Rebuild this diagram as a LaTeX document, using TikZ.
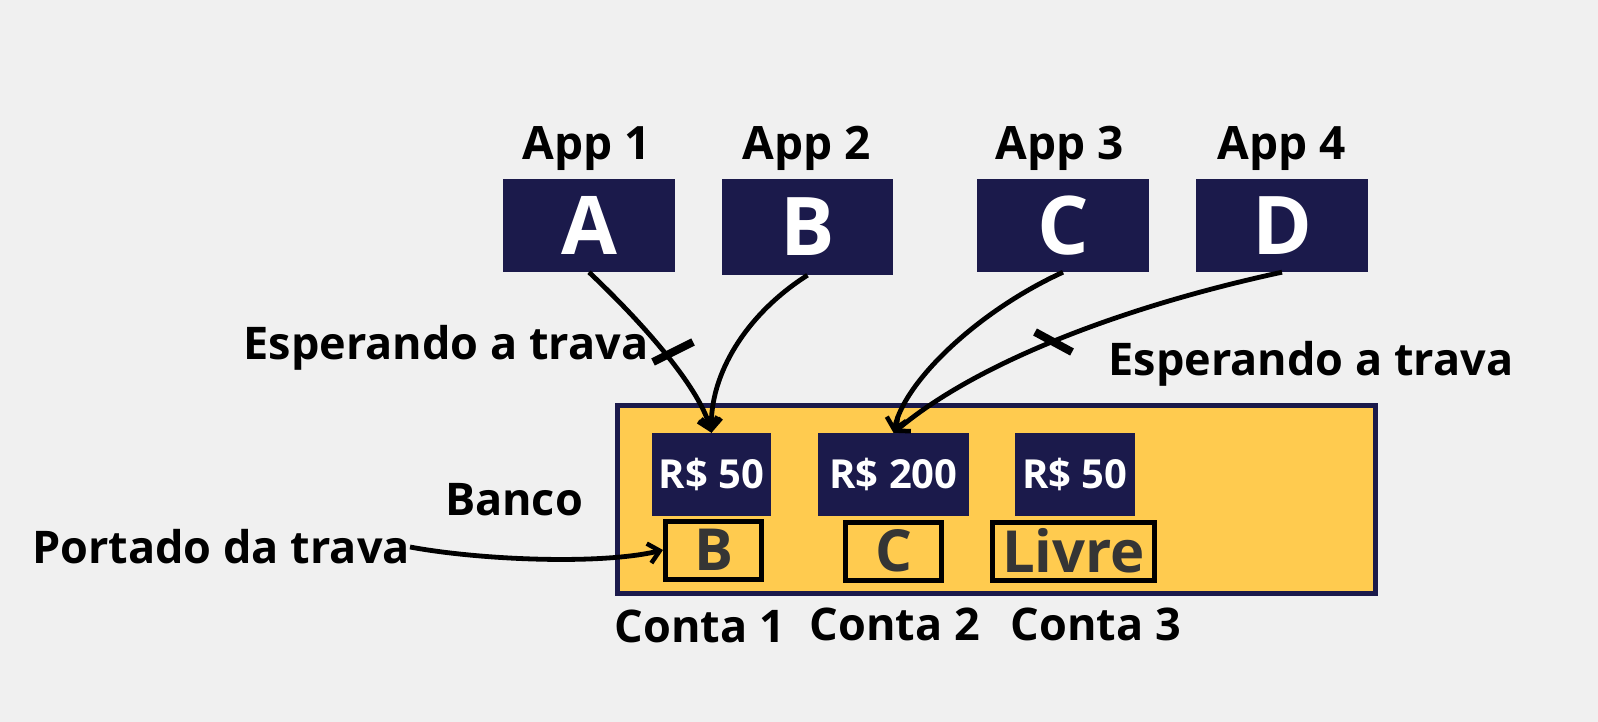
\documentclass[tikz,border=0pt]{standalone}
\usepackage{fontspec}
\setmainfont{Open Sans}
\usetikzlibrary{arrows.meta}
\definecolor{navy}{HTML}{1B1A4B}
\definecolor{gold}{HTML}{FFCB4F}
\definecolor{bgc}{HTML}{F0F0F0}
\definecolor{txtgray}{HTML}{353535}
\tikzset{
  appbox/.style={fill=navy, inner sep=0, minimum width=172pt, minimum height=93pt, text=white, font=\fontsize{81}{81}\selectfont\bfseries},
  applabel/.style={anchor=base, inner sep=0, font=\fontsize{46}{46}\selectfont\bfseries},
  lbl/.style={anchor=base, inner sep=0, font=\fontsize{45}{45}\selectfont\bfseries},
  acct/.style={fill=navy, inner sep=0, minimum height=83pt, text=white, font=\fontsize{40}{40}\selectfont\bfseries},
  lockbox/.style={draw=black, line width=5pt, fill=gold, inner sep=0, minimum height=58pt, text=txtgray, font=\fontsize{58}{58}\selectfont\bfseries},
  conn/.style={line width=4.8pt, -{Straight Barb[length=11pt, width=20pt, line width=4.5pt]}},
  tick/.style={line width=8pt}
}
\begin{document}
\begin{tikzpicture}[x=1pt,y=-1pt]
\fill[bgc] (0,0) rectangle (1598,722);
\useasboundingbox (0,0) rectangle (1598,722);

% apps
\node[applabel] (l1) at (587,160) {App 1};
\node[applabel] (l2) at (807,160) {App 2};
\node[applabel] (l3) at (1060,160) {App 3};
\node[applabel] (l4) at (1282,160) {App 4};
\node[appbox] (A) at (589,225.5) {A};
\node[appbox, minimum width=171pt, minimum height=96pt] (B) at (807.5,227) {B};
\node[appbox] (C) at (1063,225.5) {C};
\node[appbox] (D) at (1282,225.5) {D};

% bank
\node[draw=navy, line width=5pt, fill=gold, inner sep=0, minimum width=758pt, minimum height=188pt] (bank) at (996,499) {};
\node[acct, minimum width=119pt] (a1) at (711.5,474.5) {R\$ 50};
\node[acct, minimum width=151pt] (a2) at (893.5,474.5) {R\$ 200};
\node[acct, minimum width=120pt] (a3) at (1075,474.5) {R\$ 50};
\node[lockbox, minimum width=96pt] (k1) at (713.5,550) {B};
\node[lockbox, minimum width=96pt] (k2) at (893.5,551) {C};
\node[lockbox, minimum width=162pt] (k3) at (1073.5,551) {Livre};

% labels
\node[lbl] (banco) at (514,515) {Banco};
\node[lbl] (port) at (221,563) {Portado da trava};
\node[lbl] (c1) at (700,642) {Conta 1};
\node[lbl] (c2) at (895,640) {Conta 2};
\node[lbl] (c3) at (1096,640) {Conta 3};
\node[lbl] (w1) at (446,359) {Esperando a trava};
\node[lbl] (w2) at (1311,375) {Esperando a trava};

% connectors
\draw[conn] (A.south) .. controls (650,330) and (700,390) .. (a1.north);
\draw[conn] (B.south) .. controls (745,315) and (710,375) .. (a1.north);
\draw[conn] (C.south) .. controls (980,310) and (905,380) .. (a2.north);
\draw[conn] (D.south) .. controls (1130,305) and (980,360) .. (a2.north);
\draw[conn] ([yshift=16pt]port.base east) .. controls (480,560) and (600,565) .. (k1.west);

% blocking ticks
\coordinate (t1a) at (653,362);
\coordinate (t1b) at (693,342);
\coordinate (t2a) at (1035,332);
\coordinate (t2b) at (1072,352);
\draw[tick] (t1a) -- (t1b);
\draw[tick] (t2a) -- (t2b);
\end{tikzpicture}
\end{document}
